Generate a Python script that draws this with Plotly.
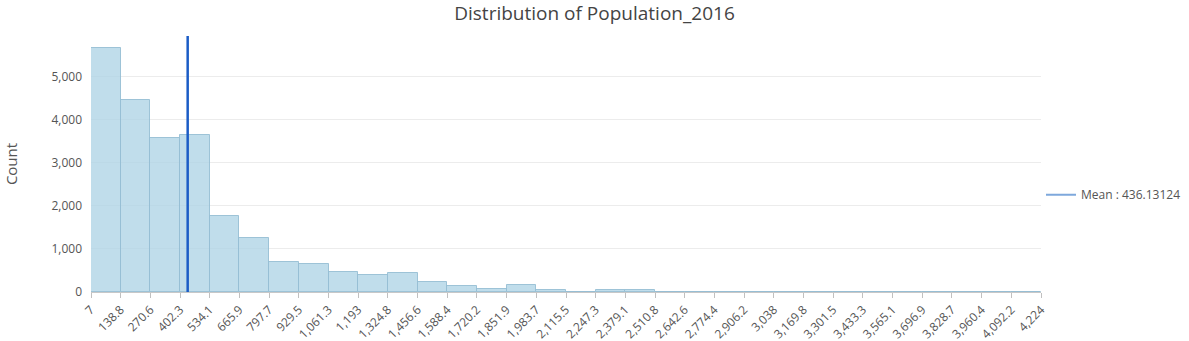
import plotly.graph_objects as go

# Data
bin_edges = [7, 138.8, 270.6, 402.3, 534.1, 665.9, 797.7, 929.5, 1061.3, 1193, 1324.8,
             1456.6, 1588.4, 1720.2, 1851.9, 1983.7, 2115.5, 2247.3, 2379.1, 2510.8,
             2642.6, 2774.4, 2906.2, 3038, 3169.8, 3301.5, 3433.3, 3565.1, 3696.9,
             3828.7, 3960.4, 4092.2, 4224]
tick_labels = ["7", "138.8", "270.6", "402.3", "534.1", "665.9", "797.7", "929.5", "1,061.3",
               "1,193", "1,324.8", "1,456.6", "1,588.4", "1,720.2", "1,851.9", "1,983.7",
               "2,115.5", "2,247.3", "2,379.1", "2,510.8", "2,642.6", "2,774.4", "2,906.2",
               "3,038", "3,169.8", "3,301.5", "3,433.3", "3,565.1", "3,696.9", "3,828.7",
               "3,960.4", "4,092.2", "4,224"]
counts = [5680, 4470, 3570, 3660, 1770, 1260, 690, 651, 458, 395, 435, 225, 140, 70, 170,
          47, 6, 35, 35, 8, 6, 6, 6, 6, 6, 6, 6, 6, 6, 6, 6, 8]
mean_value = 436.13124
y_max = 5950

centers = [(bin_edges[i] + bin_edges[i + 1]) / 2 for i in range(len(counts))]
widths = [bin_edges[i + 1] - bin_edges[i] for i in range(len(counts))]

fig = go.Figure()
fig.add_trace(go.Bar(
    x=centers, y=counts, width=widths,
    marker=dict(color="rgba(174,211,229,0.78)", line=dict(color="rgba(150,190,212,0.9)", width=1)),
    showlegend=False, hoverinfo="y",
))
fig.add_trace(go.Scatter(
    x=[mean_value, mean_value], y=[0, y_max], mode="lines",
    line=dict(color="#1b5cc6", width=2.5),
    showlegend=False,
))
# legend entry
fig.add_trace(go.Scatter(
    x=[None], y=[None], mode="lines",
    line=dict(color="#7ea8dc", width=2),
    name="Mean : " + str(mean_value),
))

fig.update_layout(
    width=1189, height=341,
    margin=dict(l=91, r=148, t=36, b=49, autoexpand=False),
    paper_bgcolor="white", plot_bgcolor="white",
    font=dict(family="Open Sans, Noto Sans, sans-serif", color="#555", size=12),
    title=dict(text="Distribution of Population_2016", x=0.5, xref="container", xanchor="center",
               y=0.962, yref="container", yanchor="middle",
               font=dict(size=19, color="#444")),
    bargap=0,
    legend=dict(x=1.0, xanchor="left", y=0.38, yanchor="middle", xref="paper",
                font=dict(size=12, color="#555")),
    xaxis=dict(range=[bin_edges[0], bin_edges[-1]], tickmode="array", tickvals=bin_edges,
               ticktext=tick_labels, tickangle=-45, showgrid=False, zeroline=False,
               showline=True, linecolor="#c8c8c8", linewidth=1, automargin=False,
               ticks="outside", ticklen=5, tickcolor="#c0c0c0", tickfont=dict(size=12, color="#555")),
    yaxis=dict(range=[0, y_max], tickvals=[0, 1000, 2000, 3000, 4000, 5000],
               ticktext=["0", "1,000", "2,000", "3,000", "4,000", "5,000"], automargin=False,
               showgrid=True, gridcolor="#ececec", zeroline=False, showline=False,
               tickfont=dict(size=12, color="#555"), ticks="", ticklabelstandoff=8,
               title=dict(text="Count", font=dict(size=15, color="#555"), standoff=30)),
)

fig.write_html("out.html")
